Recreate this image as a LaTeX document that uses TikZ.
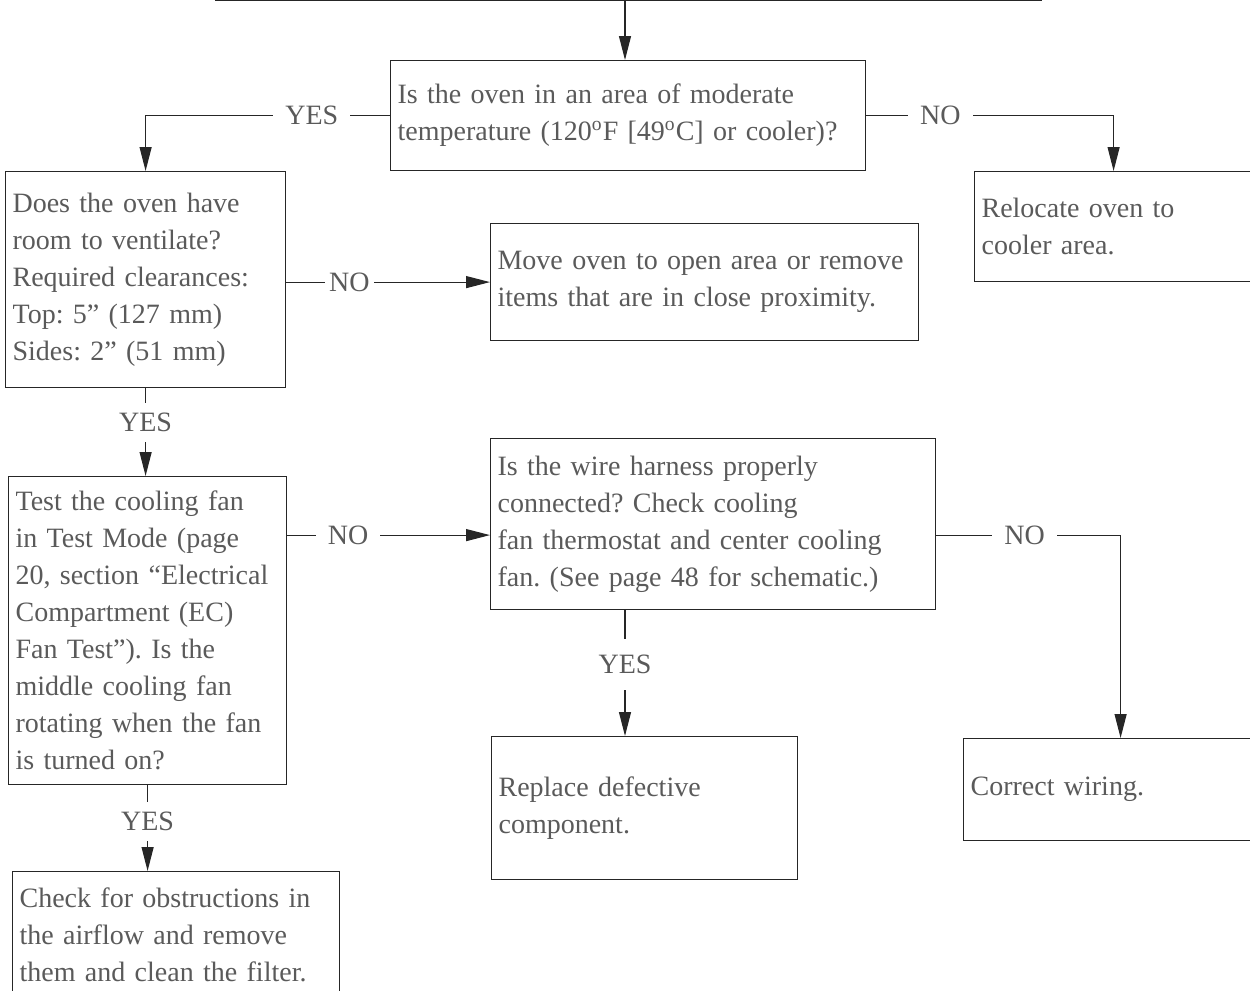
\documentclass[tikz,border=0pt]{standalone}
\usepackage{fontspec}
\setmainfont{Liberation Serif}
\usepackage{xcolor}
\usetikzlibrary{arrows.meta, positioning}
\definecolor{textgrey}{HTML}{5A5A5A}
\frenchspacing

\begin{document}
\begin{tikzpicture}[
    x=0.5pt, y=-0.5pt,
    box/.style={rectangle, draw=black!85, line width=0.6pt, anchor=north west, align=left, inner xsep=3.5pt, inner ysep=0pt, font=\fontsize{14}{18.5}\selectfont, text=textgrey},
    lbl/.style={fill=white, inner xsep=6pt, inner ysep=1pt, font=\fontsize{14}{18.5}\selectfont, text=textgrey},
    vlbl/.style={lbl, inner xsep=2pt, inner ysep=5pt},
    arrow/.style={-{Triangle[length=12pt, width=6pt]}, line width=0.6pt, black!85}
]
    \clip (0,0) rectangle (1250,991);

    \coordinate (topL) at (215,0.5);
    \coordinate (topR) at (1042,0.5);
    \coordinate (topM) at (625,0.5);

    \node[box, minimum width=237.5pt, minimum height=55pt, text width=230.5pt] (temp) at (390,60) {Is the oven in an area of moderate\\temperature (120\textsuperscript{o}F [49\textsuperscript{o}C] or cooler)?};
    \node[box, minimum width=140pt, minimum height=108pt, text width=133pt] (vent) at (5,171) {Does the oven have\\room to ventilate?\\Required clearances:\\Top: 5” (127 mm)\\Sides: 2” (51 mm)};
    \node[box, minimum width=139pt, minimum height=55pt, text width=132pt] (relocate) at (974,171) {Relocate oven to\\cooler area.};
    \node[box, minimum width=214pt, minimum height=58.5pt, text width=207pt] (move) at (490,223) {Move oven to open area or remove\\items that are in close proximity.};
    \node[box, minimum width=139pt, minimum height=154pt, text width=132pt] (fantest) at (8,476) {Test the cooling fan\\in Test Mode (page\\20, section “Electrical\\Compartment (EC)\\Fan Test”). Is the\\middle cooling fan\\rotating when the fan\\is turned on?};
    \node[box, minimum width=222.5pt, minimum height=85.5pt, text width=215.5pt] (harness) at (490,438) {Is the wire harness properly\\connected? Check cooling\\fan thermostat and center cooling\\fan. (See page 48 for schematic.)};
    \node[box, minimum width=153pt, minimum height=71.5pt, text width=146pt] (replace) at (491,736) {Replace defective\\component.};
    \node[box, minimum width=157pt, minimum height=51pt, text width=150pt] (wiring) at (963,738) {Correct wiring.};
    \node[box, minimum width=163.5pt, minimum height=63pt, text width=156.5pt] (airflow) at (12,871) {Check for obstructions in\\the airflow and remove\\them and clean the filter.};

    \draw[line width=0.6pt, black!85] (topL) -- (topR);
    \draw[arrow] (topM) -- (topM |- temp.north);
    \draw[arrow] (temp.west) -| node[lbl, pos=0.16] {YES} (vent.north);
    \draw[arrow] (temp.east) -| node[lbl, pos=0.15] {NO} (relocate.north);
    \draw[arrow] (move.west -| vent.east) -- node[lbl, pos=0.31, inner xsep=2pt] {NO} (move.west);
    \draw[arrow] (vent.south) -- node[vlbl, pos=0.39] {YES} (vent.south |- fantest.north);
    \draw[arrow] ([yshift=-5.5pt]harness.west -| fantest.east) -- node[lbl, pos=0.3] {NO} ([yshift=-5.5pt]harness.west);
    \draw[arrow] (fantest.south) -- node[vlbl, pos=0.42] {YES} (fantest.south |- airflow.north);
    \draw[arrow] (harness.south -| topM) -- node[vlbl, pos=0.43, inner ysep=8pt] {YES} (replace.north -| topM);
    \draw[arrow] ([yshift=-5.5pt]harness.east) -| node[lbl, pos=0.24] {NO} (wiring.north);
\end{tikzpicture}
\end{document}
